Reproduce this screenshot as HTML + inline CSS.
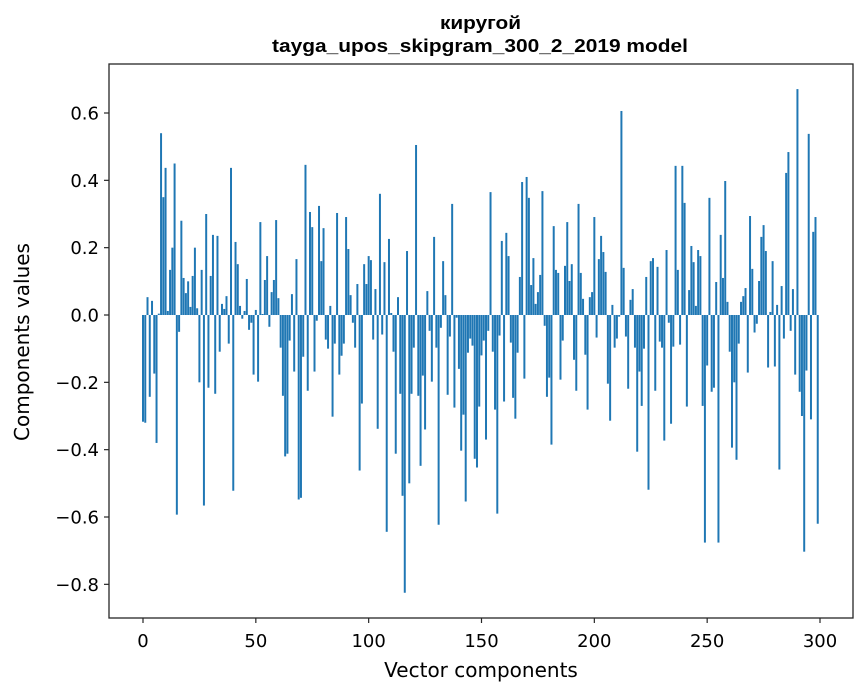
<!DOCTYPE html>
<html><head><meta charset="utf-8"><style>
body{margin:0;background:#fff;}
svg{display:block;font-family:"DejaVu Sans","Liberation Sans",sans-serif;}
</style></head><body>
<svg id="chart" width="867" height="696" viewBox="0 0 867 696" xmlns="http://www.w3.org/2000/svg">
<text x="440" y="29" textLength="81" lengthAdjust="spacingAndGlyphs" font-family="Liberation Sans, sans-serif" font-weight="bold" font-size="18">киругой</text>
<text x="272" y="52" textLength="416" lengthAdjust="spacingAndGlyphs" font-family="Liberation Sans, sans-serif" font-weight="bold" font-size="18">tayga_upos_skipgram_300_2_2019 model</text>
<g id="bars"></g>
<g id="axes"></g>
<rect x="109" y="64" width="744" height="554" fill="none" stroke="#262626" stroke-width="1.3"/>
<text x="481" y="677" text-anchor="middle" font-size="20">Vector components</text>
<text transform="translate(29,342) rotate(-90)" text-anchor="middle" font-size="20">Components values</text>
</svg>
<script>
const values = [
-0.317,-0.32,0.053,-0.243,0.042,-0.174,-0.38,0.004,0.54,0.35,
0.437,0.012,0.134,0.2,0.45,-0.593,-0.05,0.28,0.11,0.065,
0.1,0.024,0.116,0.2,0.02,-0.2,0.134,-0.566,0.3,-0.216,
0.116,0.238,-0.234,0.235,-0.109,0.033,0.018,0.056,-0.085,0.437,
-0.522,0.217,0.151,0.027,-0.011,0.012,0.107,-0.044,-0.023,-0.177,
0.015,-0.198,0.276,0.003,0.104,0.175,-0.035,0.068,0.104,0.282,
0.05,-0.097,-0.24,-0.42,-0.412,-0.076,0.062,-0.168,0.166,-0.548,
-0.543,-0.124,0.446,-0.225,0.306,0.261,-0.168,-0.017,0.324,0.16,
0.258,-0.073,-0.1,0.027,-0.302,-0.085,0.303,-0.177,-0.121,-0.085,
0.291,0.196,0.059,-0.023,-0.097,0.092,-0.462,-0.263,0.151,0.092,
0.175,0.163,-0.073,0.077,-0.338,0.36,-0.058,0.157,-0.644,0.226,
0.006,-0.109,-0.412,0.053,-0.234,-0.537,-0.825,0.19,-0.5,-0.234,
-0.097,0.505,-0.24,-0.448,-0.18,-0.34,0.071,-0.047,-0.198,0.232,
-0.097,-0.623,-0.038,0.16,0.059,-0.237,-0.064,0.33,-0.275,-0.008,
-0.16,-0.403,-0.296,-0.554,-0.112,-0.07,-0.091,-0.427,-0.453,-0.272,
-0.12,-0.076,-0.37,-0.047,0.365,-0.109,-0.281,-0.59,-0.061,0.22,
-0.257,0.244,0.175,-0.082,-0.246,-0.308,-0.112,0.113,0.395,-0.189,
0.41,0.348,0.089,0.169,0.033,0.068,0.119,0.368,-0.032,-0.243,
-0.186,-0.385,0.264,0.134,0.125,-0.192,-0.076,0.146,0.276,0.101,
0.151,-0.133,-0.225,0.33,0.125,0.048,-0.118,-0.281,0.053,0.068,
0.291,-0.067,0.166,0.235,0.187,0.128,-0.204,-0.314,0.03,-0.097,
-0.07,-0.005,0.606,0.14,-0.064,-0.219,0.045,0.077,-0.097,-0.406,
-0.168,-0.27,-0.1,0.113,-0.519,0.16,0.169,-0.225,0.143,-0.079,
-0.097,-0.373,0.193,-0.023,-0.323,-0.094,0.443,0.134,-0.088,0.443,
0.333,-0.272,0.074,0.205,0.157,0.027,0.193,0.175,-0.27,-0.676,
-0.15,0.348,-0.228,-0.216,0.098,-0.676,0.238,0.11,0.398,0.039,
-0.109,-0.394,-0.2,-0.43,-0.085,0.039,0.056,0.08,-0.171,0.294,
0.137,-0.052,-0.026,0.101,0.232,0.267,0.19,-0.156,0.009,0.16,
-0.153,0.03,-0.459,0.086,-0.07,0.422,0.484,-0.047,0.077,-0.177,
0.671,-0.228,-0.3,-0.703,-0.165,0.538,-0.31,0.247,0.291,-0.62
];
const xTicks = [0,50,100,150,200,250,300];
const yTicks = [-0.8,-0.6,-0.4,-0.2,0.0,0.2,0.4,0.6];
const yTickLabels = ["\u22120.8","\u22120.6","\u22120.4","\u22120.2","0.0","0.2","0.4","0.6"];

const NS = "http://www.w3.org/2000/svg";
const xScale = v => 143 + v * (820 - 143) / 300;
const yScale = v => 315 - v * (315 - 113) / 0.6;
const barW = 0.88 * (820 - 143) / 300;

const barsG = document.getElementById('bars');
values.forEach((v, i) => {
  const r = document.createElementNS(NS, 'rect');
  const y0 = yScale(0), y1 = yScale(v);
  r.setAttribute('x', xScale(i) - barW / 2);
  r.setAttribute('width', barW);
  r.setAttribute('y', Math.min(y0, y1));
  r.setAttribute('height', Math.max(Math.abs(y1 - y0), 0.3));
  r.setAttribute('fill', '#1f77b4');
  
  
  barsG.appendChild(r);
});

const axesG = document.getElementById('axes');
xTicks.forEach(t => {
  const x = xScale(t);
  const l = document.createElementNS(NS, 'line');
  l.setAttribute('x1', x); l.setAttribute('x2', x);
  l.setAttribute('y1', 618); l.setAttribute('y2', 623);
  l.setAttribute('stroke', '#262626'); l.setAttribute('stroke-width', '1.2');
  
  
  axesG.appendChild(l);
  const tx = document.createElementNS(NS, 'text');
  tx.setAttribute('x', x); tx.setAttribute('y', 647);
  tx.setAttribute('text-anchor', 'middle'); tx.setAttribute('font-size', '18');
  tx.textContent = String(t);
  
  
  axesG.appendChild(tx);
});
yTicks.forEach((t, k) => {
  const y = yScale(t);
  const l = document.createElementNS(NS, 'line');
  l.setAttribute('x1', 104); l.setAttribute('x2', 109);
  l.setAttribute('y1', y); l.setAttribute('y2', y);
  l.setAttribute('stroke', '#262626'); l.setAttribute('stroke-width', '1.2');
  
  
  axesG.appendChild(l);
  const tx = document.createElementNS(NS, 'text');
  tx.setAttribute('x', 99); tx.setAttribute('y', y + 6.5);
  tx.setAttribute('text-anchor', 'end'); tx.setAttribute('font-size', '18');
  tx.textContent = yTickLabels[k];
  
  
  axesG.appendChild(tx);
});
</script>
</body></html>
